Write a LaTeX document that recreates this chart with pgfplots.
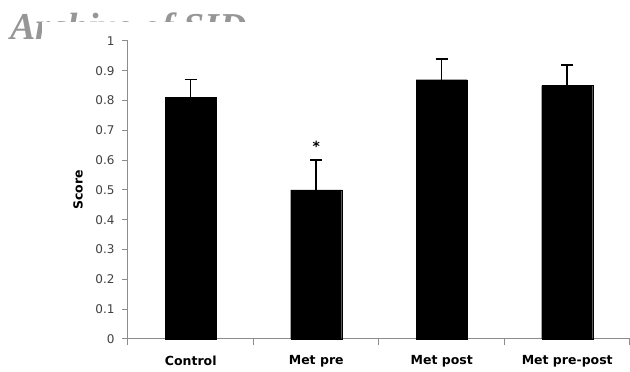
\documentclass[border=0pt]{standalone}
\usepackage{fontspec}
\setmainfont{DejaVu Sans}
\newfontfamily\wm{Liberation Serif}
\usepackage{pgfplots}
\pgfplotsset{compat=1.18}
\definecolor{axgray}{RGB}{140,140,140}
\definecolor{wmgray}{RGB}{150,150,150}
\begin{document}
\begin{tikzpicture}
\node[anchor=base west, inner sep=0, text=wmgray, font=\wm\bfseries\itshape\fontsize{38}{40}\selectfont] at (-118pt,299pt) {Archive of SID};
\fill[white] (-86pt,268pt) rectangle (192pt,317pt);
\begin{axis}[
  ybar, bar width=51pt,
  scale only axis, width=502pt, height=298pt,
  xmin=-0.5, xmax=3.5, ymin=0, ymax=1,
  axis lines*=left,
  axis line style={axgray, line width=1pt},
  ytick={0,0.1,0.2,0.3,0.4,0.5,0.6,0.7,0.8,0.9,1},
  yticklabels={0,0.1,0.2,0.3,0.4,0.5,0.6,0.7,0.8,0.9,1},
  xtick={0,1,2,3},
  xticklabels={Control,Met pre,Met post,Met pre-post},
  xtick style={draw=none},
  extra x ticks={-0.5,0.5,1.5,2.5,3.5},
  extra x tick labels={},
  extra x tick style={xtick style={draw=axgray, line width=1pt}},
  tick align=outside, major tick length=6pt,
  ytick style={axgray, line width=1pt},
  yticklabel style={font=\fontsize{12}{14}\selectfont, text=black!75, xshift=-4pt},
  xticklabel style={font=\bfseries\fontsize{12.5}{14}\selectfont, yshift=-7pt},
  ylabel={Score},
  ylabel style={font=\bfseries\fontsize{12.5}{14}\selectfont, at={(rel axis cs:-0.0996,0.5)}, anchor=center},
  clip=false,
]
\addplot[fill=black, draw=black,
  error bars/.cd, y dir=plus, y explicit,
  error bar style={line width=1.5pt, black},
  error mark options={rotate=90, mark size=6pt, line width=1.5pt, black}]
  coordinates {(0,0.81) +- (0,0.06) (1,0.50) +- (0,0.10) (2,0.87) +- (0,0.07) (3,0.85) +- (0,0.07)};
\node[font=\bfseries\fontsize{14}{14}\selectfont] at (axis cs:1,0.645) {*};
\end{axis}
\pgfresetboundingbox
\path (-128pt,-33pt) rectangle (502pt,339pt);
\end{tikzpicture}
\end{document}
